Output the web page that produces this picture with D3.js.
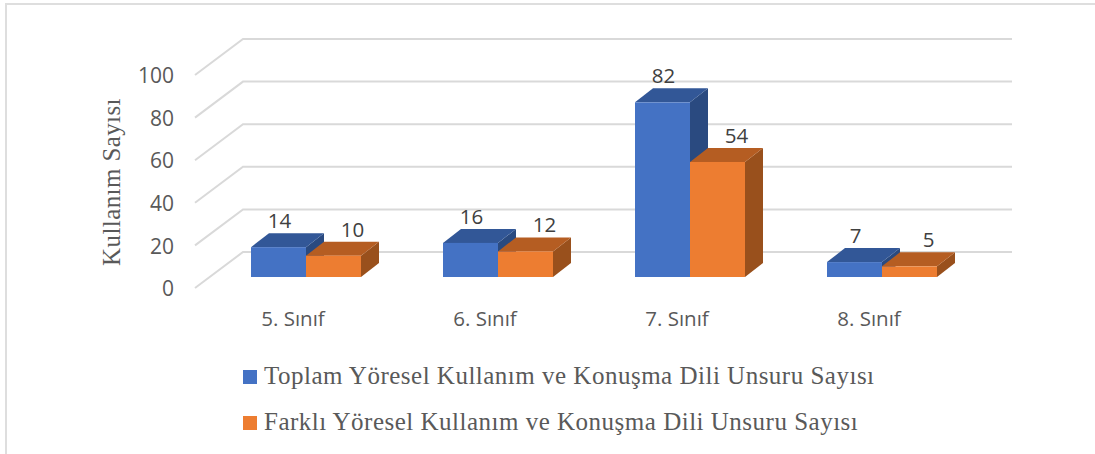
<!DOCTYPE html>
<html><head><meta charset="utf-8">
<script src="https://cdn.jsdelivr.net/npm/d3@7/dist/d3.min.js"></script>
<style>html,body{margin:0;padding:0;background:#fff}svg{display:block}</style></head>
<body><svg id="c" width="1095" height="454"></svg>
<script>
const categories=["5. Sınıf","6. Sınıf","7. Sınıf","8. Sınıf"];
const seriesNames=["Toplam Yöresel Kullanım ve Konuşma Dili Unsuru Sayısı","Farklı Yöresel Kullanım ve Konuşma Dili Unsuru Sayısı"];
const toplam=[14,16,82,7];
const farkli=[10,12,54,5];
const yTicks=[0,20,40,60,80,100];
const seriesColors=[{f:"#4472c4",t:"#325797",s:"#2a4a80"},{f:"#ed7d31",t:"#b55d22",s:"#99501c"}];
const svg=d3.select("#c");
const sans="'Open Sans','Noto Sans',sans-serif", serif="'Liberation Serif','DejaVu Serif',serif";
const y=d3.scaleLinear().domain([0,100]).range([288,75]);
const x0=d3.scaleBand().domain(categories).range([210,978]).paddingInner(0).paddingOuter(0);
const bw=55,dx=18,dy=14,baseShift=-11;
const x=(c,i)=>x0(c)+x0.bandwidth()/2-bw+i*bw;
const gridDx=48,gridDy=36,gridEnd=1012,gridFront=195;
const labelNudge=[1,19];
// frame
svg.append("path").attr("d","M6,454V4H1095").attr("fill","none").attr("stroke","#dedede").attr("stroke-width",2);
// grid
svg.append("g").selectAll("path").data(yTicks).join("path")
 .attr("d",d=>d3.line()([[gridFront,y(d)],[gridFront+gridDx,y(d)-gridDy],[gridEnd,y(d)-gridDy]]))
 .attr("fill","none").attr("stroke","#d9d9d9").attr("stroke-width",2);
// y axis
const ax=svg.append("g").attr("transform","translate(174,1)").call(d3.axisLeft(y).tickValues(yTicks).tickSize(0).tickPadding(0));
ax.select(".domain").remove();
ax.selectAll("text").attr("font-family",sans).attr("font-size",21).attr("fill","#595959").attr("dy","0.32em");
// bars
const data=[toplam,farkli];
const barsG=svg.append("g");
categories.forEach((c,ci)=>{
 [0,1].forEach(si=>{
  const v=data[si][ci],col=seriesColors[si];
  const l=x(c,si),r=l+bw,b=y(0)+baseShift,t=y(v)+baseShift;
  const g=barsG.append("g");
  g.append("path").attr("d",d3.line()([[r,b],[r+dx,b-dy],[r+dx,t-dy],[r,t]])+"Z").attr("fill",col.s);
  g.append("path").attr("d",d3.line()([[l,t],[l+dx,t-dy],[r+dx,t-dy],[r,t]])+"Z").attr("fill",col.t);
  g.append("rect").attr("x",l).attr("y",t).attr("width",bw).attr("height",b-t).attr("fill",col.f);
 });
});
// labels
categories.forEach((c,ci)=>{
 [0,1].forEach(si=>{
  const v=data[si][ci];
  svg.append("text").text(v).attr("x",x(c,si)+bw/2+labelNudge[si]).attr("y",y(v)+baseShift-dy-5)
   .attr("text-anchor","middle").attr("font-family",sans).attr("font-size",20.5).attr("fill","#404040");
 });
 svg.append("text").text(c).attr("x",x(c,0)+42).attr("y",326)
   .attr("text-anchor","middle").attr("font-family",sans).attr("font-size",20.5).attr("fill","#595959");
});
// y title
svg.append("text").text("Kullanım Sayısı").attr("transform","translate(120,182) rotate(-90)")
 .attr("text-anchor","middle").attr("font-family",serif).attr("font-size",25).attr("letter-spacing",0.4).attr("fill","#595959");
// legend
const lg=svg.append("g").selectAll("g").data(seriesNames).join("g").attr("transform",(d,i)=>`translate(243,${370+i*46})`);
lg.append("rect").attr("width",14).attr("height",14).attr("fill",(d,i)=>seriesColors[i].f);
lg.append("text").text(d=>d).attr("x",21).attr("y",14).attr("font-family",serif).attr("font-size",25).attr("letter-spacing",0.5).attr("fill","#595959");
</script></body></html>
